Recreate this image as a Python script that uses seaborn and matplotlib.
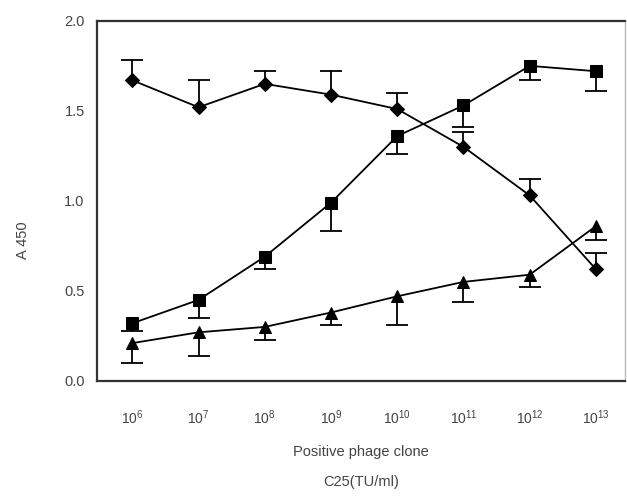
import numpy as np
import pandas as pd
import matplotlib
matplotlib.use("Agg")
import matplotlib.pyplot as plt
import seaborn as sns

# values
exponents = [6, 7, 8, 9, 10, 11, 12, 13]
tick_labels = [r"$10^{%d}$" % e for e in exponents]

diamond = [1.67, 1.52, 1.65, 1.59, 1.51, 1.30, 1.03, 0.62]
diamond_err_up = [0.11, 0.15, 0.07, 0.13, 0.09, 0.08, 0.09, 0.09]

square = [0.32, 0.45, 0.69, 0.99, 1.36, 1.53, 1.75, 1.72]
square_err_down = [0.04, 0.10, 0.07, 0.16, 0.10, 0.12, 0.08, 0.11]

triangle = [0.21, 0.27, 0.30, 0.38, 0.47, 0.55, 0.59, 0.86]
triangle_err_down = [0.11, 0.13, 0.07, 0.07, 0.16, 0.11, 0.07, 0.08]

sns.set_style("white")
plt.rcParams["font.family"] = ["Liberation Sans", "DejaVu Sans"]
plt.rcParams["mathtext.default"] = "regular"

fig = plt.figure(figsize=(6.27, 4.96), dpi=100)
ax = fig.add_axes([0.155, 0.232, 0.842, 0.726])

zero = np.zeros(8)
series = [
    # values, (down, up) errors, marker, marker size
    (diamond, [zero, diamond_err_up], "D", 7),
    (square, [square_err_down, zero], "s", 8.5),
    (triangle, [triangle_err_down, zero], "^", 8.5),
]

for vals, err, mk, ms in series:
    eb = ax.errorbar(exponents, vals, yerr=err, fmt="none", ecolor="black",
                     elinewidth=1.3, capsize=8, capthick=1.3, zorder=2)
    # one-sided bars: drop the cap sitting on the point
    low_cap, up_cap = eb[1]
    if np.all(np.asarray(err[0]) == 0):
        low_cap.remove()
    else:
        up_cap.remove()
    d = pd.DataFrame({"x": exponents, "y": vals})
    sns.lineplot(data=d, x="x", y="y", color="black", linewidth=1.3,
                 marker=mk, markersize=ms, markeredgecolor="black",
                 markerfacecolor="black", ax=ax, zorder=3)

ax.set_xlim(5.47, 13.44)
ax.set_ylim(0, 2.0)
ax.set_xticks(exponents)
ax.set_xticklabels(tick_labels)
ax.set_yticks([0.0, 0.5, 1.0, 1.5, 2.0])
ax.set_yticklabels(["0.0", "0.5", "1.0", "1.5", "2.0"])

txt = "#444444"
ax.tick_params(axis="x", length=0, pad=20, labelsize=10, labelcolor=txt)
ax.tick_params(axis="y", length=2, direction="in", pad=9, labelsize=10.5,
               labelcolor=txt, color="#888888")

for side in ["left", "bottom", "top"]:
    ax.spines[side].set_linewidth(1.6)
    ax.spines[side].set_color("#333333")
ax.spines["right"].set_linewidth(1.0)
ax.spines["right"].set_color("#bbbbbb")

ax.set_xlabel("Positive phage clone\nC25(TU/ml)", fontsize=10.5, color=txt,
              linespacing=2.4, labelpad=13)
ax.set_ylabel("A 450", fontsize=10.5, color=txt)
ax.yaxis.set_label_coords(-0.128, 0.39)

plt.savefig("out.png", dpi=100)
